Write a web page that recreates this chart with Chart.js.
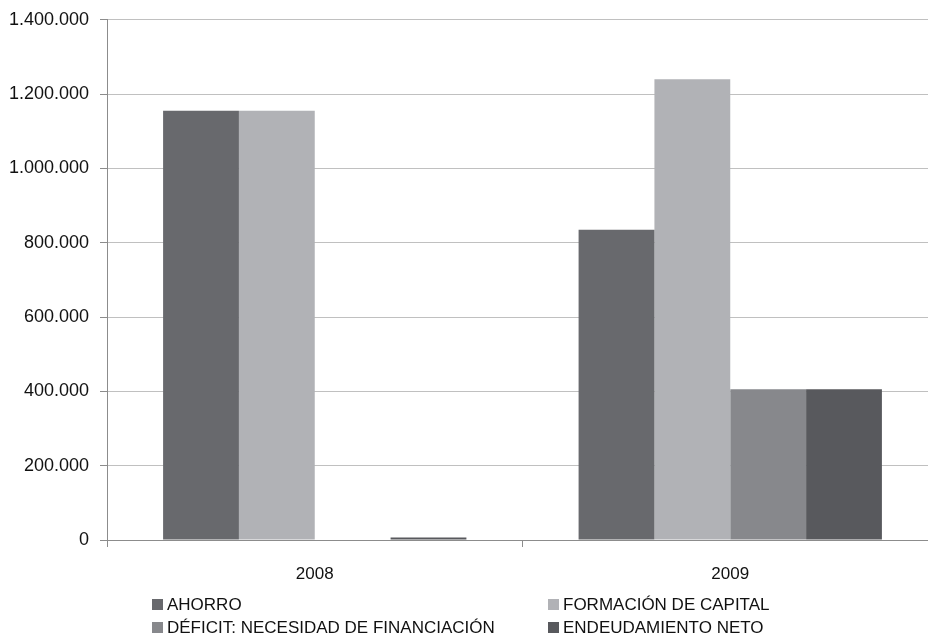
<!DOCTYPE html>
<html>
<head>
<meta charset="utf-8">
<script src="https://cdn.jsdelivr.net/npm/chart.js@4"></script>
<style>
  html, body { margin: 0; padding: 0; background: #fff; overflow: hidden; }
  #wrap { position: relative; width: 928px; height: 642px; overflow: hidden; }
  #wrap canvas { position: absolute; left: 0; top: -2px; }
  .leg { position: absolute; font-family: "Liberation Sans", Arial, sans-serif;
         font-size: 17px; color: #111; white-space: nowrap; line-height: 20px; }
  .leg span.box { display: inline-block; width: 11px; height: 11px; margin-right: 4px; vertical-align: 0px; }
</style>
</head>
<body>
<div id="wrap">
  <canvas id="chart" width="938" height="644" style="width:938px;height:644px"></canvas>
</div>
<script>
const categories = ["2008", "2009"];
const seriesNames = ["AHORRO", "FORMACIÓN DE CAPITAL", "DÉFICIT: NECESIDAD DE FINANCIACIÓN", "ENDEUDAMIENTO NETO"];
const ahorro = [1155000, 835000];
const formacion = [1155000, 1240000];
const deficit = [0, 406000];
const endeudamiento = [7000, 406000];
const yTicks = [0, 200000, 400000, 600000, 800000, 1000000, 1200000, 1400000];
const colors = ["#68696d", "#b1b2b6", "#87888c", "#58595d"];

const seriesValues = [ahorro, formacion, deficit, endeudamiento];
const fmt = v => String(v).replace(/\B(?=(\d{3})+(?!\d))/g, ".");

const ctx = document.getElementById("chart").getContext("2d");
const chart = new Chart(ctx, {
  type: "bar",
  data: {
    labels: categories,
    datasets: seriesNames.map((name, i) => ({
      label: name,
      data: seriesValues[i],
      backgroundColor: colors[i],
      borderWidth: 0,
      barPercentage: 1,
      categoryPercentage: 0.73
    }))
  },
  options: {
    responsive: false,
    animation: false,
    layout: { padding: { top: 10, right: 0, bottom: 42, left: 0 } },
    plugins: { legend: { display: false }, tooltip: { enabled: false } },
    scales: {
      x: {
        grid: { drawOnChartArea: false, drawTicks: true, tickLength: 7, color: "#8c8c8c", offset: true },
        border: { color: "#8c8c8c" },
        ticks: { color: "#111", font: { family: "'Liberation Sans', Arial", size: 17 }, padding: 17 },
        afterFit: s => { s.height = 60; }
      },
      y: {
        min: 0,
        max: 1400000,
        afterBuildTicks: s => { s.ticks = yTicks.map(v => ({ value: v })); },
        grid: { color: "#c0c0c0", tickLength: 7, tickColor: "#8c8c8c" },
        border: { color: "#8c8c8c" },
        ticks: {
          color: "#111",
          font: { family: "'Liberation Sans', Arial", size: 18 },
          padding: 11,
          callback: v => fmt(v)
        },
        afterFit: s => { s.width = 107; }
      }
    }
  }
});

// legend in two columns, built from the series names and colours
const legPos = [[152, 595], [548, 595], [152, 618], [548, 618]];
seriesNames.forEach((name, i) => {
  const d = document.createElement("div");
  d.className = "leg";
  d.style.left = legPos[i][0] + "px";
  d.style.top = legPos[i][1] + "px";
  d.innerHTML = `<span class="box" style="background:${colors[i]}"></span>${name}`;
  document.getElementById("wrap").appendChild(d);
});
</script>
</body>
</html>
